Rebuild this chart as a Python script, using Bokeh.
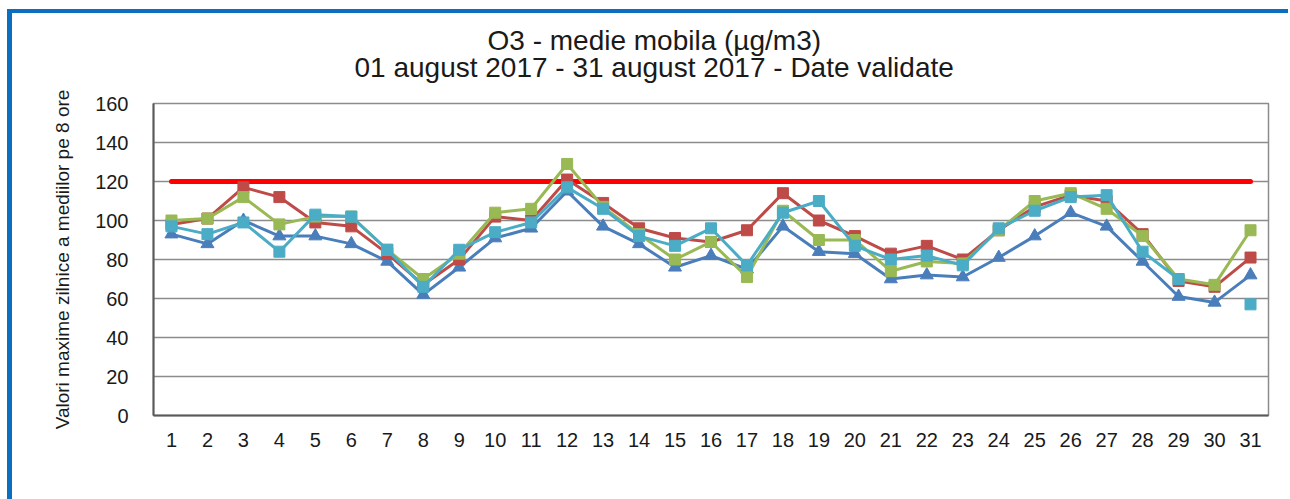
from bokeh.plotting import figure
from bokeh.models import Range1d, FixedTicker, Legend, LegendItem, Title
from bokeh.embed import file_html
from bokeh.resources import INLINE

nan = float("nan")

days = list(range(1, 32))
y_ticks = [0, 20, 40, 60, 80, 100, 120, 140, 160]
target = [120] * 31
gl2 = [93, 88, 100, 92, 92, 88, 79, 62, 76, 91, 96, 115, 97, 88, 76, 82,
       75, 97, 84, 83, 70, 72, 71, 81, 92, 104, 97, 79, 61, 58, 72]
gl3 = [98, 101, 117, 112, 99, 97, 83, 67, 80, 102, 100, 121, 109, 96, 91, 89,
       95, 114, 100, 92, 83, 87, 80, 95, 107, 113, 110, 93, 69, 66, 81]
gl4 = [100, 101, 112, 98, 102, 102, 85, 70, 83, 104, 106, 129, 107, 93, 80, 89,
       71, 105, 90, 90, 74, 79, 78, 95, 110, 114, 106, 92, 70, 67, 95]
gl5 = [97, 93, 99, 84, 103, 102, 85, 66, 85, 94, 99, 117, 106, 92, 87, 96,
       77, 104, 110, 87, 80, 82, 77, 96, 105, 112, 113, 84, 70, nan, 57]

title1 = "O3 - medie mobila (µg/m3)"
title2 = "01 august 2017 - 31 august 2017 -  Date validate"
ylabel = "Valori maxime zilnice a mediilor pe 8 ore"
target_label = "Valoare ţintă - 120"

FONT = "Liberation Sans"
TXT = "#1a1a1a"
BLUE = "#0B6EC1"

p = figure(frame_width=1115, frame_height=312, output_backend="svg",
           toolbar_location=None, title=None,
           x_range=Range1d(0.5, 31.5), y_range=Range1d(0, 160),
           min_border_left=141, min_border_right=20, min_border_top=90,
           min_border_bottom=83, background_fill_color="white",
           border_fill_color="white", outline_line_color="#8C8C8C",
           outline_line_width=1.5)
p.styles = {"margin-left": "7px", "margin-top": "9px",
            "border-top": "4px solid " + BLUE, "border-left": "5px solid " + BLUE}

p.xgrid.visible = False
p.ygrid.grid_line_color = "#8C8C8C"
p.ygrid.grid_line_width = 1.5
p.ygrid.ticker = FixedTicker(ticks=y_ticks)

p.yaxis.ticker = FixedTicker(ticks=y_ticks)
p.xaxis.ticker = FixedTicker(ticks=days)
for ax in (p.xaxis, p.yaxis):
    ax.axis_line_color = "#595959"
    ax.axis_line_width = 2
    ax.major_tick_out = 0
    ax.major_tick_in = 0
    ax.minor_tick_out = 0
    ax.minor_tick_in = 0
    ax.major_label_text_font = FONT
    ax.major_label_text_font_size = "20px"
    ax.major_label_text_color = TXT
p.yaxis.major_label_standoff = 25
p.xaxis.major_label_standoff = 17
p.yaxis.axis_label = ylabel
p.yaxis.axis_label_text_font = FONT
p.yaxis.axis_label_text_font_size = "19px"
p.yaxis.axis_label_text_font_style = "normal"
p.yaxis.axis_label_text_color = TXT
p.yaxis.axis_label_standoff = 19

r_t = p.line(days, target, line_color="#FF0000", line_width=5, line_cap="round")

series = [
    ("GL2", gl2, "#4A7EBB", "triangle", 13),
    ("GL3", gl3, "#BE4B48", "square", 11),
    ("GL4", gl4, "#98B954", "square", 11),
    ("GL5", gl5, "#4BACC6", "square", 11),
]
items = [LegendItem(label=target_label, renderers=[r_t])]
for name, vals, col, mk, sz in series:
    ln = p.line(days, vals, line_color=col, line_width=3)
    sc = p.scatter(days, vals, marker=mk, size=sz, fill_color=col, line_color=col)
    items.append(LegendItem(label=name, renderers=[ln, sc]))

legend = Legend(items=items, orientation="horizontal", location="top_center",
                glyph_width=55, glyph_height=22, label_height=22,
                label_standoff=6, spacing=56, padding=0, margin=20,
                border_line_color=None, background_fill_alpha=0,
                label_text_font=FONT, label_text_font_size="22px",
                label_text_color=TXT)
p.add_layout(legend, "below")

spacer = Title(text=" ", text_font_size="1px", standoff=18)
t2 = Title(text=title2, align="left", offset=201, text_font=FONT,
           text_font_size="28px", text_font_style="normal", text_color=TXT,
           standoff=0)
t1 = Title(text=title1, align="left", offset=334, text_font=FONT,
           text_font_size="28px", text_font_style="normal", text_color=TXT,
           standoff=-12)
p.add_layout(spacer, "above")
p.add_layout(t2, "above")
p.add_layout(t1, "above")

open("out.html", "w").write(file_html(p, INLINE))
